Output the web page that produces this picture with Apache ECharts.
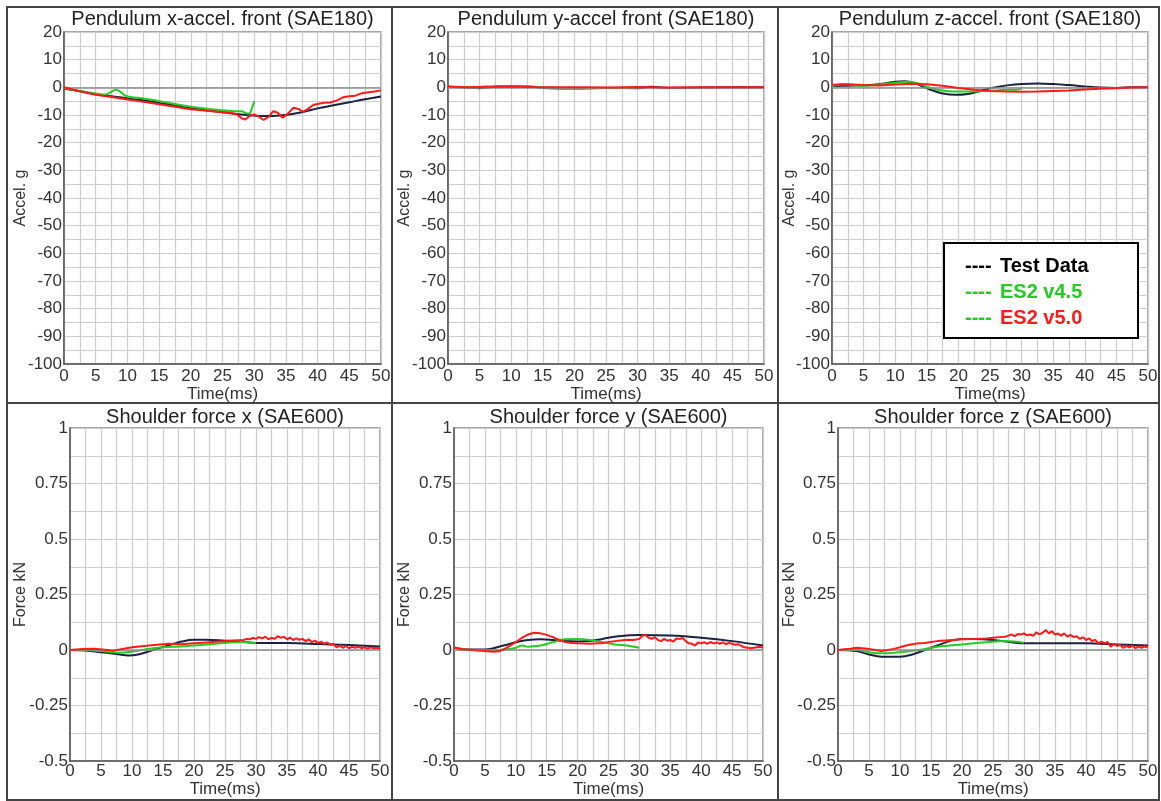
<!DOCTYPE html>
<html>
<head>
<meta charset="utf-8">
<script src="https://cdn.jsdelivr.net/npm/echarts@6/dist/echarts.min.js"></script>
<style>
html,body{margin:0;padding:0;background:#fff;}
#main{width:1161px;height:801px;}
</style>
</head>
<body>
<div id="main"></div>
<script>
// ---------- data (time ms, value) ----------
const titles = [
  'Pendulum x-accel. front (SAE180)',
  'Pendulum y-accel front (SAE180)',
  'Pendulum z-accel. front (SAE180)',
  'Shoulder force x (SAE600)',
  'Shoulder force y (SAE600)',
  'Shoulder force z (SAE600)'
];
const yNames = ['Accel. g', 'Accel. g', 'Accel. g', 'Force kN', 'Force kN', 'Force kN'];
const seriesNames = ['Test Data', 'ES2 v4.5', 'ES2 v5.0'];
const accelTicks = [20, 10, 0, -10, -20, -30, -40, -50, -60, -70, -80, -90, -100];
const forceTicks = [1, 0.75, 0.5, 0.25, 0, -0.25, -0.5];
const timeTicks = [0, 5, 10, 15, 20, 25, 30, 35, 40, 45, 50];

const xAccTest = [[0,-0.5],[2.5,-1.4],[5,-2.5],[7.5,-3.2],[10,-4],[12.5,-4.7],[15,-5.6],[17.5,-6.6],[20,-7.6],[22.5,-8.3],[25,-9.0],[27.5,-9.7],[30,-10.2],[32,-10.4],[34,-10.2],[36,-9.6],[38,-8.7],[40,-7.6],[42.5,-6.5],[45,-5.4],[47.5,-4.3],[50,-3.3]];
const xAccV45 = [[0,-0.3],[2.5,-1.3],[5,-2.2],[6.5,-2.6],[7.2,-2.0],[8.2,-0.9],[9,-1.8],[9.7,-3.0],[10.5,-3.5],[12.5,-4.0],[15,-5.0],[17.5,-6.0],[20,-7.0],[22.5,-7.7],[25,-8.3],[27,-8.6],[28,-8.6],[28.6,-9.3],[29.2,-9.5],[29.6,-7.8],[30,-5.0]];
const xAccV50 = [[0,0],[2.5,-1.4],[5,-2.7],[7.5,-3.5],[10,-4.4],[12.5,-5.2],[15,-6.1],[17.5,-7.0],[20,-7.9],[22.5,-8.5],[25,-9.0],[26.5,-9.3],[27.3,-9.8],[28,-11.2],[28.6,-11.6],[29.3,-10.3],[30,-9.8],[30.7,-10.6],[31.5,-11.8],[32.3,-10.6],[33,-8.6],[33.7,-9.2],[34.5,-11.0],[35.3,-9.5],[36.2,-7.4],[37,-7.8],[37.7,-8.9],[38.5,-7.8],[39.3,-6.4],[40,-6.0],[41,-5.6],[42,-5.5],[43,-4.8],[44,-3.6],[45,-3.2],[46,-3.0],[47,-2.1],[48,-1.8],[49,-1.5],[50,-1.1]];

const yAccTest = [[0,0.2],[3,-0.1],[5,-0.3],[8,0.3],[10,0.4],[13,0.2],[16,-0.3],[20,-0.4],[25,-0.2],[30,-0.3],[32,0.2],[35,-0.2],[40,-0.1],[45,0],[50,0]];
const yAccV45 = [[0,0.2],[3,0],[6,0.2],[9,0.5],[12,0.4],[15,0],[18,-0.2],[22,-0.3],[26,-0.2],[30,-0.1]];
const yAccV50 = [[0,0.3],[3,0],[6,0.2],[10,0.3],[14,0.1],[18,0],[22,0],[26,-0.1],[30,0.1],[34,-0.1],[38,0],[42,0],[46,0],[50,0]];

const zAccTest = [[0,0.5],[2.5,0.6],[5,0.7],[7.5,1.2],[10,2.0],[11.5,2.2],[13,1.6],[14.5,0.2],[16,-1.2],[17.5,-2.2],[19.5,-2.7],[21.5,-2.4],[23.5,-1.3],[25.5,-0.1],[28,0.8],[30,1.2],[32.5,1.4],[35,1.2],[37.5,0.8],[40,0.3],[42.5,-0.1],[45,-0.2],[47.5,0],[50,0]];
const zAccV45 = [[0,0.4],[1.5,1.1],[3,0.9],[5,0.6],[7.5,1.0],[10,1.7],[12,2.0],[13.5,1.5],[15,0.2],[16.5,-0.8],[18,-1.3],[20,-1.5],[22,-1.5],[24,-1.3],[26,-1.1],[28,-0.9],[29.5,-0.8],[30,-0.4]];
const zAccV50 = [[0,0.9],[2.5,1.1],[5,0.8],[7.5,0.7],[10,1.0],[12.5,1.3],[15,1.1],[17.5,0.6],[20,-0.2],[22.5,-0.9],[25,-1.3],[27.5,-1.5],[30,-1.6],[32.5,-1.5],[35,-1.3],[37.5,-1.1],[40,-0.8],[42.5,-0.5],[45,-0.3],[47.5,-0.1],[50,0]];

const xForceTest = [[0,0],[2.5,-0.002],[5,-0.01],[7.5,-0.018],[9.5,-0.025],[11,-0.02],[12.5,-0.008],[14,0.005],[16,0.022],[18,0.038],[20,0.046],[22,0.046],[25,0.042],[27.5,0.038],[30,0.032],[35,0.031],[40,0.027],[45,0.022],[50,0.016]];
const xForceV45 = [[0,0],[2.5,0],[5,-0.005],[7.5,-0.012],[10,-0.008],[12.5,0.004],[15,0.012],[17.5,0.016],[20,0.02],[22.5,0.026],[25,0.032],[27.5,0.036],[30,0.03]];
const xForceV50 = [[0,0],[2,0.004],[4,0.006],[6,0],[7,-0.004],[8,0.002],[10,0.012],[12,0.018],[14,0.024],[16,0.028],[18,0.026],[20,0.03],[22,0.034],[24,0.038],[26,0.042],[27,0.044],[28,0.045],[28.5,0.05],[29,0.048],[29.5,0.055],[30,0.05],[30.5,0.058],[31,0.052],[31.5,0.06],[32,0.048],[32.5,0.055],[33,0.05],[33.5,0.062],[34,0.055],[34.5,0.06],[35,0.048],[35.5,0.056],[36,0.045],[36.5,0.052],[37,0.046],[37.5,0.05],[38,0.04],[38.5,0.048],[39,0.035],[39.5,0.042],[40,0.032],[40.5,0.038],[41,0.028],[41.5,0.034],[42,0.022],[42.5,0.028],[43,0.012],[43.5,0.02],[44,0.01],[44.5,0.018],[45,0.008],[45.5,0.014],[46,0.01],[46.5,0.015],[47,0.008],[47.5,0.012],[48,0.006],[48.5,0.012],[49,0.008],[49.5,0.01],[50,0.005]];

const yForceTest = [[0,0.01],[2,0.002],[5,0.002],[8,0.02],[10,0.035],[12,0.045],[14,0.048],[16,0.045],[18,0.04],[20,0.038],[22,0.04],[24,0.05],[26,0.06],[30,0.068],[35,0.065],[40,0.055],[45,0.04],[50,0.02]];
const yForceV45 = [[0,0.01],[3,0],[6,-0.002],[9,0.005],[10,0.01],[11,0.02],[12,0.015],[14,0.02],[16,0.035],[18,0.048],[20,0.05],[22,0.045],[24,0.035],[26,0.025],[28,0.02],[30,0.01]];
const yForceV50 = [[0,0.012],[1,0.004],[3,0],[5,-0.004],[6.5,-0.008],[7.5,-0.004],[8.5,0.01],[10,0.035],[11,0.055],[12,0.07],[13,0.078],[14,0.075],[15,0.068],[16,0.058],[17,0.045],[18,0.036],[19,0.032],[20,0.03],[22,0.028],[24,0.032],[26,0.04],[28,0.046],[29,0.045],[30,0.05],[30.5,0.065],[31,0.068],[31.5,0.055],[32,0.05],[32.5,0.058],[33,0.045],[33.5,0.04],[34,0.05],[34.5,0.042],[35,0.045],[35.5,0.038],[36,0.052],[36.5,0.05],[37,0.054],[37.5,0.04],[38,0.03],[38.5,0.028],[39,0.02],[39.5,0.034],[40,0.03],[40.5,0.035],[41,0.028],[41.5,0.036],[42,0.03],[42.5,0.034],[43,0.028],[43.5,0.034],[44,0.026],[44.5,0.032],[45,0.028],[45.5,0.024],[46,0.026],[46.5,0.018],[47,0.012],[47.5,0.01],[48,0.008],[48.5,0.01],[49,0.012],[49.5,0.014],[50,0.01]];

const zForceTest = [[0,0],[3,-0.005],[5,-0.02],[7,-0.03],[10,-0.03],[12,-0.02],[14,0],[16,0.02],[18,0.04],[20,0.05],[22,0.05],[25,0.045],[28,0.035],[30,0.03],[35,0.03],[40,0.03],[45,0.025],[50,0.02]];
const zForceV45 = [[0,0],[3,0],[5,-0.01],[7,-0.015],[10,-0.01],[13,0],[16,0.015],[20,0.025],[24,0.035],[27,0.04],[30,0.033]];
const zForceV50 = [[0,0],[1,0.003],[2,0.006],[3,0.01],[4,0.008],[5,0.005],[6,0],[7,-0.004],[8,0],[9,0.005],[10,0.012],[11,0.02],[12,0.026],[13,0.03],[14,0.032],[15,0.036],[16,0.04],[18,0.044],[20,0.048],[22,0.05],[24,0.052],[25,0.055],[26,0.058],[27,0.06],[27.5,0.065],[28,0.07],[28.5,0.062],[29,0.072],[29.5,0.07],[30,0.075],[30.5,0.066],[31,0.07],[31.5,0.064],[32,0.08],[32.5,0.07],[33,0.078],[33.5,0.09],[34,0.075],[34.5,0.085],[35,0.07],[35.5,0.074],[36,0.065],[36.5,0.075],[37,0.06],[37.5,0.068],[38,0.058],[38.5,0.062],[39,0.05],[39.5,0.058],[40,0.045],[40.5,0.052],[41,0.04],[41.5,0.046],[42,0.03],[42.5,0.038],[43,0.03],[43.5,0.036],[44,0.015],[44.5,0.028],[45,0.018],[45.5,0.024],[46,0.01],[46.5,0.018],[47,0.012],[47.5,0.02],[48,0.008],[48.5,0.016],[49,0.01],[49.5,0.016],[50,0.012]];

const panelData = [
  [xAccTest, xAccV45, xAccV50],
  [yAccTest, yAccV45, yAccV50],
  [zAccTest, zAccV45, zAccV50],
  [xForceTest, xForceV45, xForceV50],
  [yForceTest, yForceV45, yForceV50],
  [zForceTest, zForceV45, zForceV50]
];

// ---------- layout ----------
const FONT = '"Liberation Sans", Arial, Helvetica, sans-serif';
const grids = [
  {left: 64, top: 32, width: 317, height: 332},
  {left: 448, top: 32, width: 316, height: 332},
  {left: 832, top: 32, width: 316, height: 332},
  {left: 70, top: 428, width: 310, height: 333},
  {left: 454, top: 428, width: 309, height: 333},
  {left: 838, top: 428, width: 310, height: 333}
];
const yNameX = [21, 405, 790, 21, 405, 790];
const colors = ['#1b2140', '#22cc22', '#ff1a1a'];
const smoothFlags = [true, true, false];
const gridLineStyle = {color: '#cdcdcd', width: 1.2};

const option = {
  animation: false,
  backgroundColor: '#ffffff',
  grid: grids.map(g => Object.assign({show: true, borderColor: '#8a8a8a', borderWidth: 1.5, backgroundColor: 'transparent'}, g)),
  xAxis: grids.map((g, i) => ({
    type: 'value', gridIndex: i, min: timeTicks[0], max: timeTicks[timeTicks.length - 1], interval: 5,
    axisLine: {show: true, onZero: false, lineStyle: {color: '#555', width: 1.5}},
    axisTick: {show: false},
    minorTick: {show: false, splitNumber: 2},
    minorSplitLine: {show: true, lineStyle: gridLineStyle},
    splitLine: {show: true, lineStyle: gridLineStyle},
    axisLabel: {fontSize: 17, color: '#333', fontFamily: FONT, margin: i < 3 ? 4 : 2},
    name: 'Time(ms)', nameLocation: 'middle', nameGap: i < 3 ? 21 : 19,
    nameTextStyle: {fontSize: 17, color: '#333', fontFamily: FONT}
  })),
  yAxis: grids.map((g, i) => {
    const top = i < 3;
    const ticks = top ? accelTicks : forceTicks;
    return {
      type: 'value', gridIndex: i,
      min: ticks[ticks.length - 1], max: ticks[0], interval: top ? 10 : 0.25,
      axisLine: {show: true, onZero: false, lineStyle: {color: '#555', width: 1.5}},
      axisTick: {show: false},
      minorTick: {show: false, splitNumber: 2},
      minorSplitLine: {show: true, lineStyle: gridLineStyle},
      splitLine: {show: true, lineStyle: gridLineStyle},
      axisLabel: {fontSize: 17, color: '#333', fontFamily: FONT, margin: 2}
    };
  }),
  series: [],
  graphic: []
};

panelData.forEach((sets, i) => {
  // zero reference line
  option.series.push({
    type: 'line', xAxisIndex: i, yAxisIndex: i, data: [[0, 0]], showSymbol: false, silent: true,
    lineStyle: {opacity: 0}, z: 1,
    markLine: {silent: true, symbol: 'none', label: {show: false},
      lineStyle: {color: '#8c8c8c', type: 'solid', width: 1.5}, data: [{yAxis: 0}]}
  });
  sets.forEach((d, k) => {
    option.series.push({
      name: seriesNames[k], type: 'line', xAxisIndex: i, yAxisIndex: i, data: d,
      showSymbol: false, smooth: smoothFlags[k] ? 0.4 : false, z: 3 + k,
      lineStyle: {color: colors[k], width: 2}
    });
  });
  const g = grids[i];
  option.graphic.push({
    type: 'text', x: g.left + g.width / 2, y: i < 3 ? 19 : 417,
    style: {text: titles[i], fill: '#222', font: '20px ' + FONT, textAlign: 'center', textVerticalAlign: 'middle'}
  });
  option.graphic.push({
    type: 'text', x: yNameX[i], y: g.top + g.height / 2, rotation: Math.PI / 2,
    style: {text: yNames[i], fill: '#333', font: '16px ' + FONT, textAlign: 'center', textVerticalAlign: 'middle'}
  });
});

// panel frames
const frameStyle = {stroke: '#444', lineWidth: 2, fill: null};
option.graphic.push(
  {type: 'rect', shape: {x: 7, y: 7, width: 1152, height: 793}, style: frameStyle, z: 100},
  {type: 'line', shape: {x1: 392, y1: 7, x2: 392, y2: 800}, style: frameStyle, z: 100},
  {type: 'line', shape: {x1: 778, y1: 7, x2: 778, y2: 800}, style: frameStyle, z: 100},
  {type: 'line', shape: {x1: 7, y1: 403, x2: 1159, y2: 403}, style: frameStyle, z: 100}
);

// legend box
const legendDash = ['#000000', '#22cc22', '#22cc22'];
const legendText = ['#000000', '#22cc22', '#ff1a1a'];
option.graphic.push({type: 'rect', shape: {x: 944, y: 243, width: 194, height: 95},
  style: {fill: '#ffffff', stroke: '#000', lineWidth: 2}, z: 90});
seriesNames.forEach((n, k) => {
  const y = 266 + k * 26;
  option.graphic.push({type: 'text', x: 965, y: y, z: 91,
    style: {text: '----', fill: legendDash[k], font: 'bold 20px ' + FONT, textVerticalAlign: 'middle'}});
  option.graphic.push({type: 'text', x: 1000, y: y, z: 91,
    style: {text: n, fill: legendText[k], font: 'bold 20px ' + FONT, textVerticalAlign: 'middle'}});
});

const chart = echarts.init(document.getElementById('main'), null, {renderer: 'canvas'});
chart.setOption(option);
</script>
</body>
</html>
